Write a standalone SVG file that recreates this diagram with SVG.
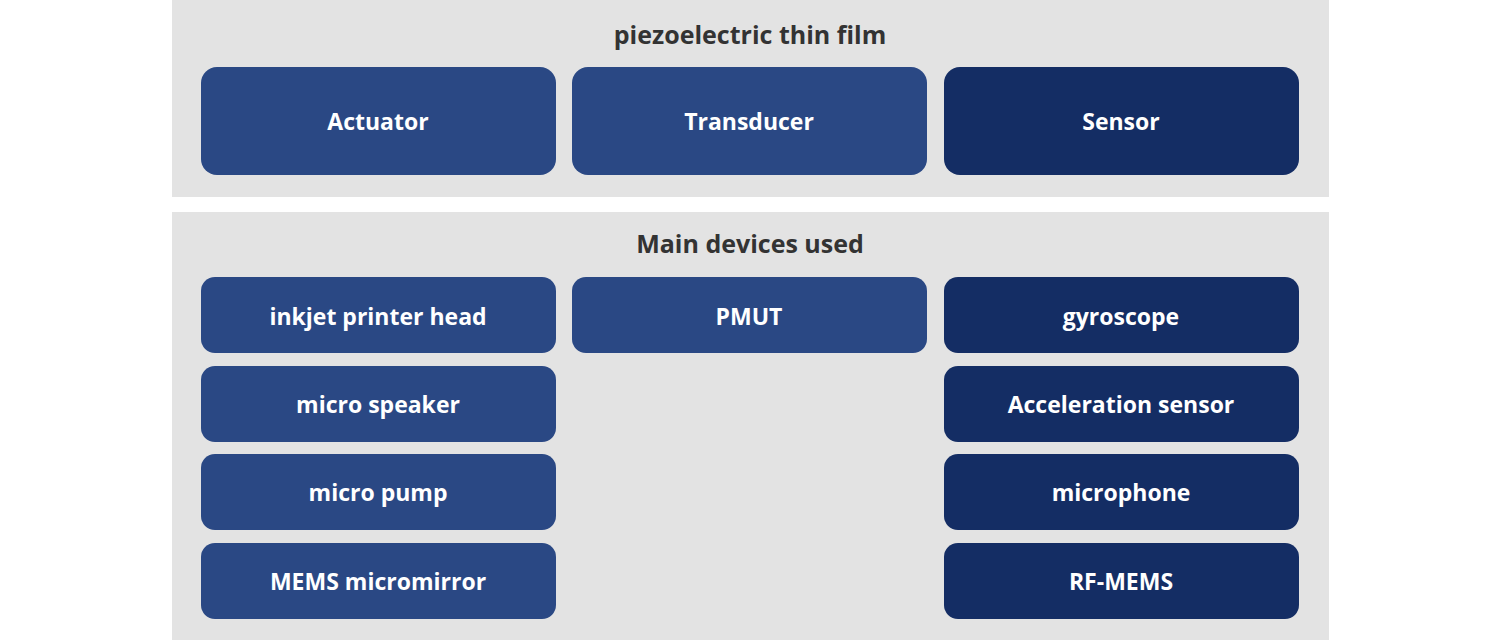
<svg xmlns="http://www.w3.org/2000/svg" width="1502" height="643" viewBox="0 0 1502 643">
<style>
.panel{fill:#e3e3e3}
.b1{fill:#2a4884}
.b2{fill:#142d64}
.t{font-family:"Open Sans","Noto Sans",sans-serif;font-weight:bold;font-size:23px;fill:#fff;text-anchor:middle;dominant-baseline:central}
.h{font-family:"Open Sans","Noto Sans",sans-serif;font-weight:bold;font-size:25px;fill:#333;text-anchor:middle;dominant-baseline:central}
</style>
<rect width="1502" height="643" fill="#fff"/>
<g id="panel-top"><rect class="panel" x="172" y="0" width="1157" height="197"/><text class="h" x="750" y="34">piezoelectric thin film</text></g>
<g id="panel-bottom"><rect class="panel" x="172" y="212" width="1157" height="428"/><text class="h" x="750" y="243">Main devices used</text></g>
<g id="actuator"><rect class="b1" x="201" y="67" width="355" height="108" rx="16"/><text class="t" x="378" y="121">Actuator</text></g>
<g id="transducer"><rect class="b1" x="572" y="67" width="355" height="108" rx="16"/><text class="t" x="749" y="121">Transducer</text></g>
<g id="sensor"><rect class="b2" x="944" y="67" width="355" height="108" rx="16"/><text class="t" x="1121" y="121">Sensor</text></g>
<g id="inkjet"><rect class="b1" x="201" y="277" width="355" height="76" rx="14"/><text class="t" x="378" y="316">inkjet printer head</text></g>
<g id="speaker"><rect class="b1" x="201" y="366" width="355" height="76" rx="14"/><text class="t" x="378" y="404">micro speaker</text></g>
<g id="pump"><rect class="b1" x="201" y="454" width="355" height="76" rx="14"/><text class="t" x="378" y="492">micro pump</text></g>
<g id="mirror"><rect class="b1" x="201" y="543" width="355" height="76" rx="14"/><text class="t" x="378" y="581">MEMS micromirror</text></g>
<g id="pmut"><rect class="b1" x="572" y="277" width="355" height="76" rx="14"/><text class="t" x="749" y="316">PMUT</text></g>
<g id="gyro"><rect class="b2" x="944" y="277" width="355" height="76" rx="14"/><text class="t" x="1121" y="316">gyroscope</text></g>
<g id="accel"><rect class="b2" x="944" y="366" width="355" height="76" rx="14"/><text class="t" x="1121" y="404">Acceleration sensor</text></g>
<g id="mic"><rect class="b2" x="944" y="454" width="355" height="76" rx="14"/><text class="t" x="1121" y="492">microphone</text></g>
<g id="rf"><rect class="b2" x="944" y="543" width="355" height="76" rx="14"/><text class="t" x="1121" y="581">RF-MEMS</text></g>
<g id="connectors"/>
</svg>
